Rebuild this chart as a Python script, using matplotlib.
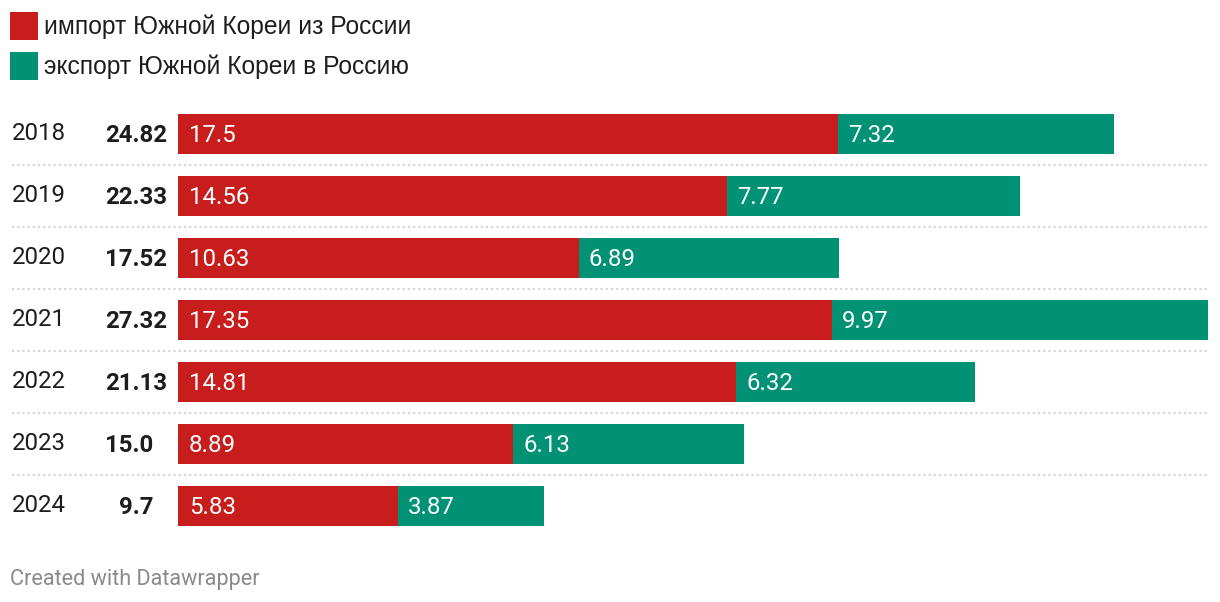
import matplotlib
matplotlib.use("Agg")
import matplotlib.pyplot as plt
from matplotlib.patches import Rectangle as Rec
import matplotlib.transforms as mtrans

# data
years = ["2018", "2019", "2020", "2021", "2022", "2023", "2024"]
imports = [17.5, 14.56, 10.63, 17.35, 14.81, 8.89, 5.83]
exports = [7.32, 7.77, 6.89, 9.97, 6.32, 6.13, 3.87]
totals = [24.82, 22.33, 17.52, 27.32, 21.13, 15.0, 9.7]
legend_labels = ["импорт Южной Кореи из России", "экспорт Южной Кореи в Россию"]

red = "#c71e1d"
green = "#019175"
W, H = 1220, 602

fig = plt.figure(figsize=(W / 100, H / 100), dpi=100)
fig.patch.set_facecolor("white")

# bars area in pixel coords: x 178..1208, rows from y=103 to 537
ax = fig.add_axes([178 / W, 1 - 537 / H, 1030 / W, 434 / H])
ax.set_xlim(0, max(totals))
ax.set_ylim(len(years) - 0.5, -0.5)
ax.set_axis_off()

rows = list(range(len(years)))
bh = 40 / 62
ax.barh(rows, imports, height=bh, color=red, linewidth=0)
ax.barh(rows, exports, left=imports, height=bh, color=green, linewidth=0)

num_font = "Roboto"
fs = 17.3
dy = -1.5  # nudge text down a bit

for i in rows:
    ax.annotate(str(imports[i]), (0, i), xytext=(11, dy), textcoords="offset pixels",
                color="white", fontsize=fs, family=num_font, va="center", ha="left")
    ax.annotate(str(exports[i]), (imports[i], i), xytext=(10, dy), textcoords="offset pixels",
                color="white", fontsize=fs, family=num_font, va="center", ha="left")

# row labels on the left, totals lined up on the decimal point
tr = mtrans.blended_transform_factory(fig.transFigure, ax.transData)
digit_w = 13.8
for i in rows:
    ax.annotate(years[i], (12 / W, i), xycoords=tr, xytext=(0, 0.5),
                textcoords="offset pixels", fontsize=fs, family=num_font,
                color="#1d1d1d", va="center", ha="left")
    s = str(totals[i])
    pad = 2 - len(s.split(".")[1])
    ax.annotate(s, (167 / W, i), xycoords=tr, xytext=(-pad * digit_w, dy),
                textcoords="offset pixels", fontsize=fs, family=num_font,
                fontweight="bold", color="#1d1d1d", va="center", ha="right")

# dotted separators between rows
for i in rows[:-1]:
    ax.plot([12 / W, 1208 / W], [i + 0.5, i + 0.5], transform=tr, color="#d4d4d4",
            linestyle=(0, (1, 1.5)), linewidth=1.5, clip_on=False)

# legend
for k, (lab, col) in enumerate(zip(legend_labels, [red, green])):
    y0 = 12 + k * 40
    fig.patches.append(Rec((10 / W, 1 - (y0 + 28) / H), 28 / W, 28 / H,
                           transform=fig.transFigure, facecolor=col, edgecolor="none"))
    fig.text(44 / W, 1 - (y0 + 15) / H, lab, fontsize=17.7, family="Liberation Sans",
             color="#1d1d1d", va="center", ha="left")

fig.text(10 / W, 1 - 579 / H, "Created with Datawrapper", fontsize=15.6, family=num_font,
         color="#8a8a8a", va="center", ha="left")

plt.savefig("out.png", dpi=100)
plt.close()
